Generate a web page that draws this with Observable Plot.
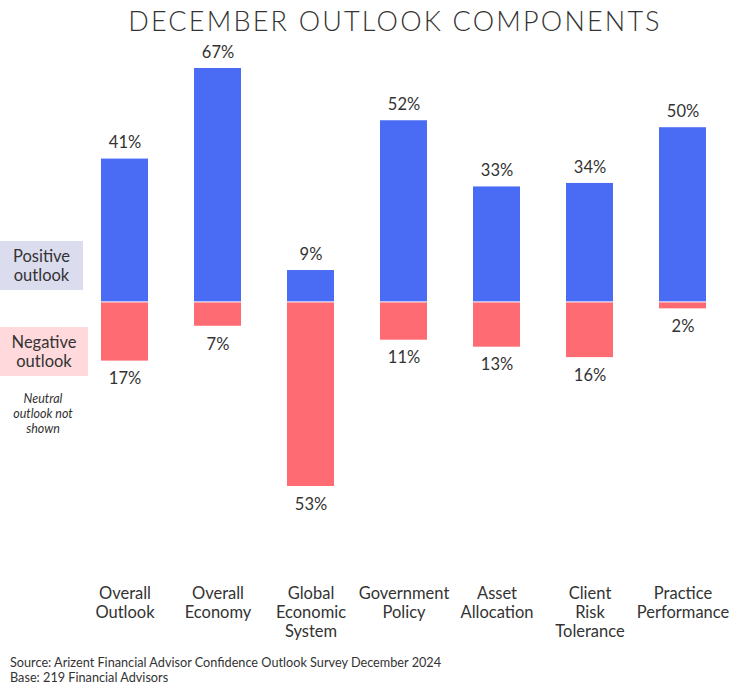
<!DOCTYPE html>
<html>
<head>
<meta charset="utf-8">
<script src="https://cdn.jsdelivr.net/npm/d3@7"></script>
<script src="https://cdn.jsdelivr.net/npm/@observablehq/plot@0.6"></script>
<style>
  body { margin: 0; background: #fff; font-family: Lato, sans-serif; color: #333; }
  #wrap { position: relative; width: 740px; height: 697px; }
  #chart { position: absolute; left: 0; top: 0; }
  .title { position: absolute; left: 0; width: 790px; top: 4px; text-align: center; font-size: 27px; letter-spacing: 2.2px; color: #333; font-weight: 300; }
  .box { position: absolute; left: 0; text-align: center; font-size: 16.5px; color: #333; }
  .box div { position: absolute; left: 0; right: 0; line-height: 19px; }
  .neutral { position: absolute; left: 0; width: 86px; text-align: center; font-size: 12.5px; font-style: italic; color: #333; }
  .neutral div { position: absolute; left: 0; right: 0; line-height: 14px; }
  .source { position: absolute; left: 10px; font-size: 12.7px; color: #333; white-space: nowrap; line-height: 15px; }
</style>
</head>
<body>
<div id="wrap">
  <div id="chart"></div>
  <div class="title">DECEMBER OUTLOOK COMPONENTS</div>
  <div class="box" style="top:241px;width:83px;height:49px;background:#dcdcef;"><div style="top:6px">Positive</div><div style="top:25px">outlook</div></div>
  <div class="box" style="top:327px;width:88px;height:49px;background:#ffd9dc;"><div style="top:6px">Negative</div><div style="top:25px">outlook</div></div>
  <div class="neutral" style="top:392px"><div style="top:0">Neutral</div><div style="top:15px">outlook not</div><div style="top:30px">shown</div></div>
  <div class="source" style="top:655px">Source: Arizent Financial Advisor Confidence Outlook Survey December 2024</div>
  <div class="source" style="top:670px">Base: 219 Financial Advisors</div>
</div>
<script>
const categories = ["Overall\nOutlook", "Overall\nEconomy", "Global\nEconomic\nSystem", "Government\nPolicy", "Asset\nAllocation", "Client\nRisk\nTolerance", "Practice\nPerformance"];
const positive = [41, 67, 9, 52, 33, 34, 50];
const negative = [17, 7, 53, 11, 13, 16, 2];

const data = categories.map((c, i) => ({category: c, pos: positive[i], neg: -negative[i], negLabel: negative[i]}));

const chart = Plot.plot({
  width: 740,
  height: 650,
  marginLeft: 75,
  marginRight: 9,
  marginTop: 68,
  marginBottom: 164,
  style: {fontFamily: "Lato, sans-serif", fontSize: "16px", color: "#333"},
  x: {domain: categories, paddingInner: 0.5, paddingOuter: 0.25, label: null},
  y: {domain: [-53, 67], axis: null},
  marks: [
    Plot.barY(data, {x: "category", y: "pos", fill: "#4a6cf5"}),
    Plot.barY(data, {x: "category", y: "neg", fill: "#ff6b72", insetTop: 1}),
    Plot.text(data, {x: "category", y: "pos", text: d => d.pos + "%", dy: -16, fontSize: 16.5, fill: "#333"}),
    Plot.text(data, {x: "category", y: "neg", text: d => d.negLabel + "%", dy: 18, fontSize: 16.5, fill: "#333"}),
    Plot.axisX({tickSize: 0, tickPadding: 99, fontSize: 16.5, lineHeight: 1.16, label: null, fill: "#333"})
  ]
});
document.getElementById("chart").appendChild(chart);
</script>
</body>
</html>
